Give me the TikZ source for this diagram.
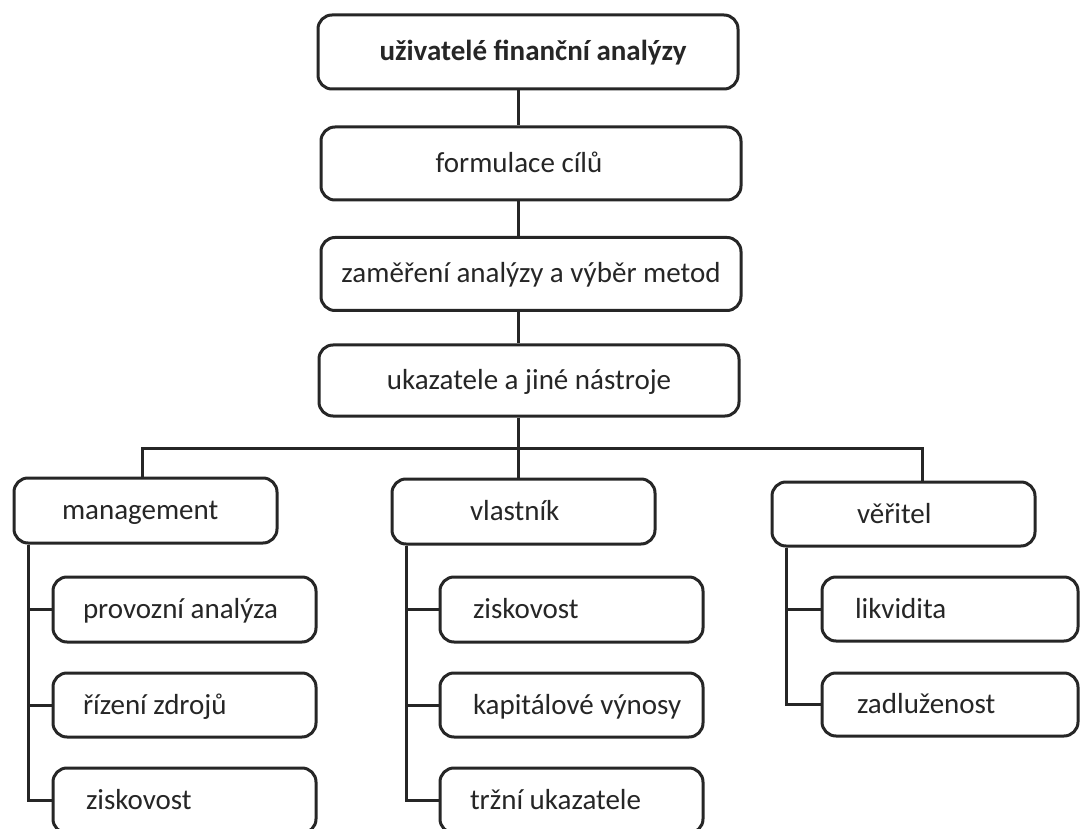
\documentclass[tikz,border=0pt]{standalone}
\usepackage{fontspec}
\setmainfont{Carlito}
\usetikzlibrary{calc}
\definecolor{ink}{HTML}{262626}
\begin{document}
\begin{tikzpicture}[x=1pt,y=-1pt,
  line width=3pt, draw=ink,
  box/.style={draw=ink, line width=3pt, rounded corners=14pt, fill=white,
     font=\fontsize{29}{34}\selectfont, text=ink, text height=20pt, text depth=2pt, inner sep=0pt},
  topbox/.style={box, minimum width=420pt, minimum height=73pt},
  subbox/.style={box, minimum width=263pt, minimum height=65pt},
  lbl/.style={anchor=west, inner sep=0pt, text=ink, font=\fontsize{29}{34}\selectfont, text height=20pt, text depth=2pt},
  conn/.style={draw=ink, line width=3pt}]
\useasboundingbox (0,0) rectangle (1080,829);
\begin{scope}
\clip (0,0) rectangle (1080,829);
% top chain
\node[topbox, minimum height=74pt] (top) at (528,52) {\hspace*{10pt}\bfseries uživatelé finanční analýzy};
\node[topbox] (b2) at (531,163.5) {\hspace*{-24pt}formulace cílů};
\node[topbox] (b3) at (531,274) {zaměření analýzy a výběr metod};
\node[topbox, minimum height=71pt] (b4) at (529,380.5) {ukazatele a jiné nástroje};
\draw[conn] ([xshift=-10pt]top.south) -- ([xshift=-13pt]b2.north);
\draw[conn] ([xshift=-13pt]b2.south) -- ([xshift=-13pt]b3.north);
\draw[conn] ([xshift=-13pt]b3.south) -- ([xshift=-11pt]b4.north);
% second level
\node[subbox] (mg) at (145.5,510.5) {};
\node[subbox] (vl) at (523.5,511.5) {};
\node[subbox, minimum height=64pt] (ve) at (903.5,514) {};
\node[lbl] (mgt) at ($(mg.west)+(48,0)$) {management};
\node[lbl] (vlt) at ($(vl.west)+(78,0)$) {vlastník};
\node[lbl] (vet) at ($(ve.west)+(85,0)$) {věřitel};
\coordinate (bar) at (518,448);
\draw[conn] ([xshift=-11pt]b4.south) -- (bar);
\draw[conn] (mg.north -| 142,0) |- (bar) -| (ve.north -| 922,0);
\draw[conn] (bar) -- (vl.north -| bar);
% management children
\node[subbox] (m1) at (184.5,609.5) {};
\node[subbox, minimum height=64pt] (m2) at (184.5,705) {};
\node[subbox] (m3) at (184.5,800.5) {};
\node[lbl] at ($(m1.west)+(30,0)$) {provozní analýza};
\node[lbl] at ($(m2.west)+(30,0)$) {řízení zdrojů};
\node[lbl] at ($(m3.west)+(33,0)$) {ziskovost};
\coordinate (mgk) at ([xshift=16pt]mg.south west);
\draw[conn] (mgk) |- (m3.west);
\draw[conn] (mgk |- m1.west) -- (m1.west);
\draw[conn] (mgk |- m2.west) -- (m2.west);
% vlastnik children
\node[subbox] (v1) at (571.5,609.5) {};
\node[subbox, minimum height=64pt] (v2) at (571.5,705) {};
\node[subbox] (v3) at (571.5,800.5) {};
\node[lbl] at ($(v1.west)+(33,0)$) {ziskovost};
\node[lbl] at ($(v2.west)+(33,0)$) {kapitálové výnosy};
\node[lbl] at ($(v3.west)+(30,0)$) {tržní ukazatele};
\coordinate (vlk) at ([xshift=16pt]vl.south west);
\draw[conn] (vlk) |- (v3.west);
\draw[conn] (vlk |- v1.west) -- (v1.west);
\draw[conn] (vlk |- v2.west) -- (v2.west);
% veritel children
\node[subbox, minimum width=256pt, minimum height=64pt] (w1) at (950,609) {};
\node[subbox, minimum width=256pt, minimum height=63pt] (w2) at (950,704.5) {};
\node[lbl] at ($(w1.west)+(33,0)$) {likvidita};
\node[lbl] at ($(w2.west)+(35,0)$) {zadluženost};
\coordinate (vek) at ([xshift=16pt]ve.south west);
\draw[conn] (vek) |- (w2.west);
\draw[conn] (vek |- w1.west) -- (w1.west);
\end{scope}
\end{tikzpicture}
\end{document}
